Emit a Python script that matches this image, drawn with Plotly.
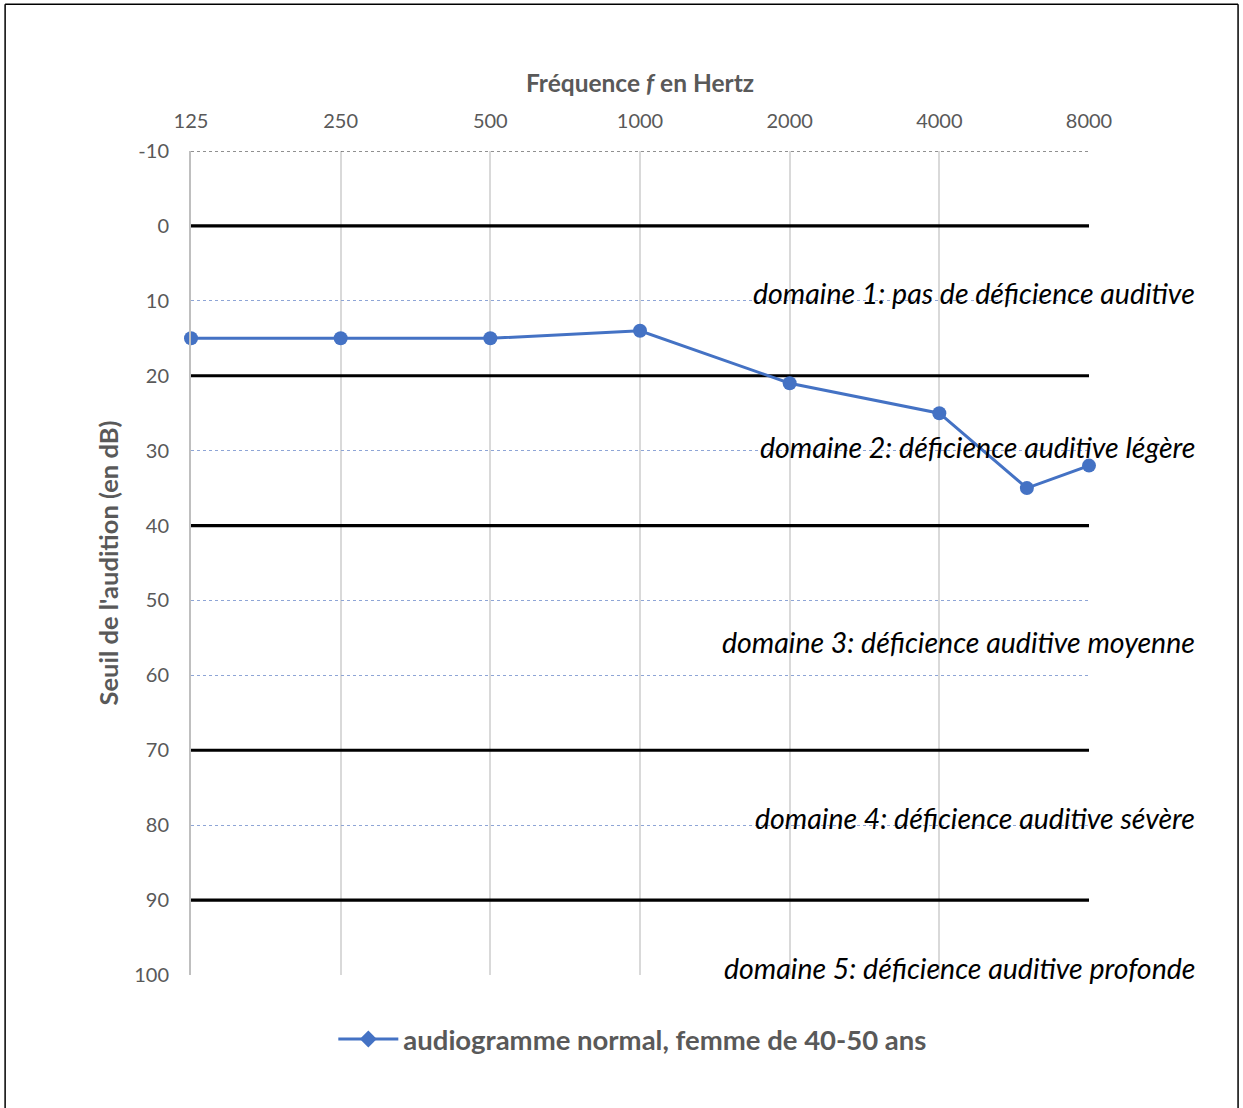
import plotly.graph_objects as go

# ---- data ----
freqs = [125, 250, 500, 1000, 2000, 4000, 6000, 8000]
seuil = [15, 15, 15, 14, 21, 25, 35, 32]
tick_freqs = [125, 250, 500, 1000, 2000, 4000, 8000]
tick_labels = ["125", "250", "500", "1000", "2000", "4000", "8000"]
y_ticks = [-10, 0, 10, 20, 30, 40, 50, 60, 70, 80, 90, 100]
y_tick_labels = ["-10", "0", "10", "20", "30", "40", "50", "60", "70", "80", "90", "100"]
limit_lines = [0, 20, 40, 70, 90]
domain_labels = [
    "domaine 1: pas de déficience auditive",
    "domaine 2: déficience auditive légère",
    "domaine 3: déficience auditive moyenne",
    "domaine 4: déficience auditive sévère",
    "domaine 5: déficience auditive profonde",
]
domain_label_y = [9, 29.5, 55.5, 79, 99]
series_name = "audiogramme normal, femme de 40-50 ans"

BLUE = "#4472C4"
GRAY = "#595959"
FONT = "Lato"

fig = go.Figure()

# series
fig.add_trace(go.Scatter(
    x=freqs, y=seuil, mode="lines+markers",
    line=dict(color=BLUE, width=3),
    marker=dict(symbol="circle", size=14, color=BLUE),
    cliponaxis=False, showlegend=False,
))
# legend entry (diamond marker as in original)
fig.add_trace(go.Scatter(
    x=[None], y=[None], mode="lines+markers", name=series_name,
    line=dict(color=BLUE, width=3),
    marker=dict(symbol="diamond", size=13, color=BLUE),
))

shapes = []
# dark dotted line at top (-10)
shapes.append(dict(type="line", xref="x", yref="y", x0=tick_freqs[0], x1=tick_freqs[-1],
                   y0=y_ticks[0], y1=y_ticks[0], line=dict(color="#222222", width=1.2, dash="dot"),
                   layer="above"))
# black thick domain limits
for v in limit_lines:
    shapes.append(dict(type="line", xref="x", yref="y", x0=tick_freqs[0], x1=tick_freqs[-1],
                       y0=v, y1=v, line=dict(color="black", width=3.2), layer="between"))
# page frame
shapes.append(dict(type="line", xref="paper", yref="paper", x0=-0.207, x1=1.166, y0=1.178, y1=1.178,
                   line=dict(color="black", width=1.5)))
shapes.append(dict(type="line", xref="paper", yref="paper", x0=-0.207, x1=-0.207, y0=1.178, y1=-0.17,
                   line=dict(color="black", width=1.5)))
shapes.append(dict(type="line", xref="paper", yref="paper", x0=1.166, x1=1.166, y0=1.178, y1=-0.17,
                   line=dict(color="black", width=1.5)))

annotations = []
for txt, yv in zip(domain_labels, domain_label_y):
    annotations.append(dict(
        text=txt, xref="paper", yref="y", x=1.12, y=yv, xanchor="right", yanchor="middle",
        showarrow=False, font=dict(family=FONT, size=28.5, color="black", style="italic"),
    ))

fig.update_layout(
    width=1243, height=1108,
    margin=dict(l=191, r=154, t=151, b=133),
    paper_bgcolor="white", plot_bgcolor="white",
    font=dict(family=FONT, color=GRAY),
    shapes=shapes,
    annotations=annotations,
    showlegend=True,
    legend=dict(orientation="h", x=0.492, xanchor="center", y=-0.048, yanchor="top",
                font=dict(family=FONT, size=27.5, color=GRAY, weight="bold"),
                itemwidth=60),
    xaxis=dict(
        type="log", side="top",
        range=[2.0969100130080562, 3.903089986991944],
        tickvals=tick_freqs, ticktext=tick_labels,
        tickfont=dict(size=20, color=GRAY),
        ticks="outside", ticklen=14, tickcolor="rgba(0,0,0,0)",
        showgrid=True, gridcolor="#D9D9D9", gridwidth=1.5,
        zeroline=False, showline=False,
        title=dict(text="<b>Fréquence <i>f</i> en Hertz</b>", font=dict(size=24.5, color=GRAY), standoff=8),
    ),
    yaxis=dict(
        range=[100, -10], autorange=False,
        tickvals=y_ticks, ticktext=y_tick_labels,
        tickfont=dict(size=20, color=GRAY),
        ticks="outside", ticklen=16, tickcolor="rgba(0,0,0,0)",
        showgrid=True, gridcolor="#8EA5D6", griddash="dot", gridwidth=1,
        zeroline=False,
        showline=True, linecolor="#BFBFBF", linewidth=2,
        title=dict(text="<b>Seuil de l'audition (en dB)</b>", font=dict(size=25.5, color=GRAY), standoff=8),
    ),
)

fig.write_html("out.html", config={"displayModeBar": False},
               post_script="document.body.style.margin='0px';")
